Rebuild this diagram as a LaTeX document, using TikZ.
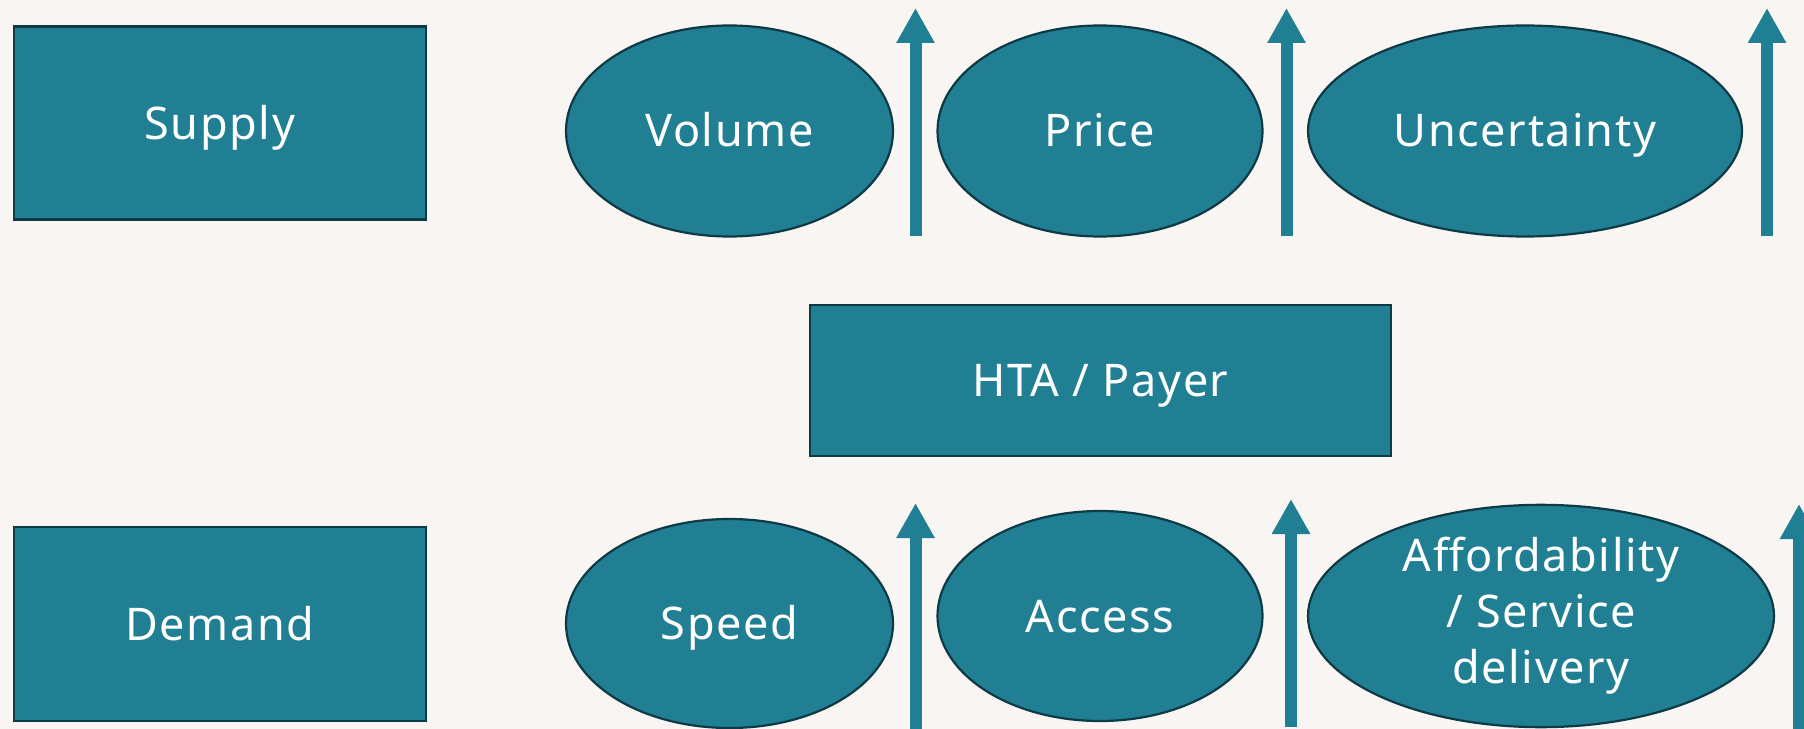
\documentclass[tikz,border=0pt]{standalone}
\usepackage{fontspec}
\setmainfont{Noto Sans}[LetterSpace=3.5]
\usetikzlibrary{arrows.meta,shapes.geometric}
\definecolor{bg}{HTML}{F8F5F2}
\definecolor{teal}{HTML}{217F94}
\definecolor{edge}{HTML}{0D3A45}
\tikzset{
  box/.style={draw=edge,line width=2.5bp,fill=teal,text=white,font=\fontsize{45bp}{56bp}\selectfont,inner sep=0pt,anchor=center},
  oval/.style={ellipse,draw=edge,line width=2.2bp,fill=teal,text=white,font=\fontsize{45bp}{56bp}\selectfont,inner sep=0pt,align=center,anchor=center},
  capc/.style={text height=32bp,text depth=0bp},
  blockarrow/.style={draw=teal,line width=12bp,-{Triangle[length=35bp,width=36bp]}}
}
\begin{document}
\begin{tikzpicture}[x=1bp,y=-1bp]
\fill[bg] (0,0) rectangle (1804,729);
\useasboundingbox (0,0) rectangle (1804,729);
% boxes
\node[box,capc,minimum width=412bp,minimum height=193bp] (supply) at (219.8,123.1) {Supply};
\node[box,capc,minimum width=412bp,minimum height=194bp] (demand) at (219.8,624) {Demand};
\node[box,capc,minimum width=581bp,minimum height=151bp] (hta) at (1100.5,380.3) {HTA / Payer};
% top ellipses
\node[oval,capc,minimum width=327bp,minimum height=211bp] (volume) at (729.5,131) {Volume};
\node[oval,capc,minimum width=325bp,minimum height=211bp] (price) at (1100,131) {Price};
\node[oval,capc,minimum width=434bp,minimum height=211bp] (uncert) at (1525,131) {Uncertainty};
% bottom ellipses
\node[oval,capc,minimum width=327bp,minimum height=209bp] (speed) at (729.5,623.5) {Speed};
\node[oval,capc,minimum width=325bp,minimum height=210bp] (access) at (1100,616) {Access};
\node[oval,minimum width=466bp,minimum height=210bp] (afford) at (1541,616) {Affordability\\/ Service\\delivery};
% arrows
\coordinate (a1s) at (915.5,236); \coordinate (a1t) at (915.5,8);
\coordinate (a2s) at (1286.5,236); \coordinate (a2t) at (1286.5,8);
\coordinate (a3s) at (1767,236); \coordinate (a3t) at (1767,8);
\coordinate (b1s) at (915.5,740); \coordinate (b1t) at (915.5,503);
\coordinate (b2s) at (1291,727); \coordinate (b2t) at (1291,499);
\coordinate (b3s) at (1799,740); \coordinate (b3t) at (1799,504);
\foreach \s/\t in {a1s/a1t,a2s/a2t,a3s/a3t,b1s/b1t,b2s/b2t,b3s/b3t}
  \draw[blockarrow] (\s) -- (\t);
\end{tikzpicture}
\end{document}
